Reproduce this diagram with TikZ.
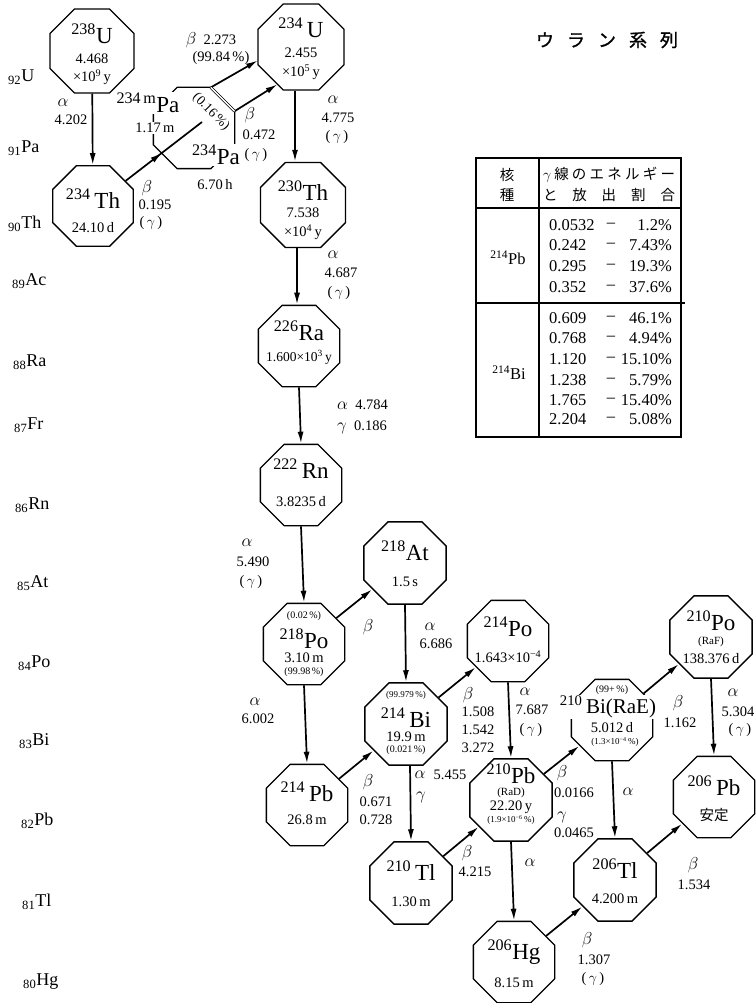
\documentclass[tikz,border=0pt]{standalone}
\usepackage{fontspec}
\setmainfont{Liberation Serif}
\newfontfamily\jpfont{Noto Sans CJK JP}
\newfontfamily\jpbold[FakeBold=1.2]{Noto Sans CJK JP}
\usetikzlibrary{shapes.geometric,arrows.meta,decorations.markings}
\newcommand\nk[2]{\textsuperscript{#1}#2}
\newcommand\el[2]{\textsubscript{#1}#2}
\newcommand\gm{(\,$\gamma$\,)}
\begin{document}
\begin{tikzpicture}[x=1pt,y=-1pt,
  oct/.style={regular polygon, regular polygon sides=8, draw, line width=1.3pt, minimum size=88pt, inner sep=0pt},
  arr/.style={line width=1.7pt, -{Latex[length=12pt,width=6pt]}},
  midarr/.style={line width=1.7pt, decoration={markings, mark=at position #1 with {\arrow{Latex[length=12pt,width=6pt]}}}, postaction={decorate}},
  nb/.style={inner sep=0pt, font=\fontsize{14.5}{16}\selectfont},
  nkf/.style={inner sep=0pt, font=\fontsize{23}{24}\selectfont},
  sm/.style={inner sep=0pt, font=\fontsize{10}{11}\selectfont},
  gk/.style={inner sep=0pt, font=\fontsize{18}{19}\selectfont},
  elf/.style={inner sep=0pt, anchor=west, font=\fontsize{18}{19}\selectfont},
  jpf/.style={inner sep=0pt, font=\jpfont\fontsize{14.5}{15}\selectfont},
  tb/.style={inner sep=0pt, font=\fontsize{16.5}{18}\selectfont},
  tbl/.style={line width=1.4pt},
  mask/.style={fill=white, inner sep=1pt}
]
\useasboundingbox (0,0) rectangle (755,1003);
\fill[white] (0,0) rectangle (755,1003);

% ---------- octagons ----------
\node[oct, minimum size=91pt] (u238) at (92,51) {};
\node[oct, minimum size=87pt] (th234) at (93,206) {};
\node[oct, minimum size=93pt] (u234) at (301,47) {};
\node[oct, minimum size=92pt] (th230) at (303,205) {};
\node[oct] (pa) at (194,128) {};
\node[oct] (ra226) at (299,346) {};
\node[oct] (rn222) at (301,485) {};
\node[oct, minimum size=89pt] (at218) at (405,563) {};
\node[oct] (po218) at (304,644) {};
\node[oct, minimum size=89pt] (bi214) at (406,724) {};
\node[oct] (po214) at (508,641) {};
\node[oct] (bi210) at (612,720) {};
\node[oct, minimum size=89pt] (po210) at (711,637) {};
\node[oct] (pb206) at (714,797) {};
\node[oct] (pb214) at (307,805) {};
\node[oct, minimum size=89pt] (tl210) at (411,883) {};
\node[oct, minimum size=89pt] (pb210) at (511,800) {};
\node[oct, minimum size=89pt] (tl206) at (615,880) {};
\node[oct] (hg206) at (514,962) {};

% ---------- arrows ----------
\draw[arr] (u238) -- (th234);
\coordinate (pain) at (202,122);
\draw[midarr=0.48] (th234) -- (pain);
\coordinate (pa1) at (210.8,87.4);
\coordinate (pa2) at (234.6,111.2);
\coordinate (u234a) at (258,60.4);
\coordinate (u234b) at (277.6,84.3);
\draw[arr] (pa1) -- (u234a);
\draw[arr] (pa2) -- (u234b);
\draw[line width=0.7pt, double, double distance=1.5pt] (pa1) -- (pa2);
\draw[arr] ([xshift=-6pt]u234.south) -- ([xshift=-8pt]th230.north);
\draw[arr] ([xshift=-6pt]th230.south) -- ([xshift=-2pt]ra226.north);
\draw[arr] (ra226.south) -- (rn222.north);
\draw[arr] (rn222.south) -- (po218.north);
\draw[arr] (po218.south) -- (pb214.north);
\draw[arr] (po218) -- (at218);
\draw[arr] (at218.south) -- (bi214.north);
\draw[arr] (pb214) -- (bi214);
\draw[arr] (bi214) -- (po214);
\draw[arr] ([xshift=4pt]bi214.south) -- (tl210.north);
\draw[arr] (po214.south) -- (pb210.north);
\draw[arr] (tl210) -- (pb210);
\draw[arr] (pb210) -- (bi210);
\draw[arr] (pb210.south) -- (hg206.north);
\draw[arr] (bi210) -- (po210);
\draw[arr] (bi210.south) -- (tl206.north);
\draw[arr] (hg206) -- (tl206);
\draw[arr] (tl206) -- (pb206);
\draw[arr] (po210.south) -- (pb206.north);

% ---------- texts in octagons ----------
\node[nkf] (u238a) at (92,34) {\nk{238}{U}};
\node[nb] (u238b) at (92,59) {4.468};
\node[nb] (u238c) at (92,77) {×10\textsuperscript{9}\,y};
\node[nkf] (th234a) at (93,199) {\nk{234}{\,Th}};
\node[nb] (th234b) at (93,228) {24.10\,d};
\node[nkf] (u234t) at (301,28) {\nk{234}{\,U}};
\node[nb] (u234h) at (301,53) {2.455};
\node[nb] (u234e) at (301,72) {×10\textsuperscript{5}\,y};
\node[nkf] (th230a) at (303,191) {\nk{230}{Th}};
\node[nb] (th230b) at (303,213) {7.538};
\node[nb] (th230c) at (303,232) {×10\textsuperscript{4}\,y};
\node[nkf] (ra226a) at (299,331) {\nk{226}{Ra}};
\node[nb, font=\fontsize{13.5}{14}\selectfont] (ra226b) at (299,357) {1.600×10\textsuperscript{3}\,y};
\node[nkf] (rn222a) at (301,469) {\nk{222}{\,Rn}};
\node[nb] (rn222b) at (301,502) {3.8235\,d};
\node[nkf] (at218a) at (405,551) {\nk{218}{At}};
\node[nb] (at218b) at (405,582) {1.5\,s};
\node[sm] (po218a) at (304,616) {(0.02\,\%)};
\node[nkf] (po218b) at (304,639) {\nk{218}{Po}};
\node[nb] (po218c) at (304,658) {3.10\,m};
\node[sm] (po218d) at (304,672) {(99.98\,\%)};
\node[sm, font=\fontsize{9}{10}\selectfont] (bi214a) at (406,695) {(99.979\,\%)};
\node[nkf] (bi214b) at (406,718) {\nk{214}{\,Bi}};
\node[nb] (bi214c) at (406,737) {19.9\,m};
\node[sm] (bi214d) at (406,750) {(0.021\,\%)};
\node[nkf] (po214a) at (508,627) {\nk{214}{Po}};
\node[nb] (po214b) at (508,657) {1.643×10\textsuperscript{−4}};
\node[sm] (bi210a) at (612,690) {(99+\,\%)};
\node[nkf, fill=white, inner sep=1pt, font=\fontsize{21}{22}\selectfont] (bi210b) at (608,707) {\nk{210}{\,Bi(RaE)}};
\node[nb] (bi210c) at (612,728) {5.012\,d};
\node[sm, font=\fontsize{9}{10}\selectfont] (bi210d) at (615,742) {(1.3×10\textsuperscript{−4}\,\%)};
\node[nkf] (po210a) at (711,621) {\nk{210}{Po}};
\node[sm, font=\fontsize{11}{12}\selectfont] (po210b) at (711,642) {(RaF)};
\node[nb] (po210c) at (711,659) {138.376\,d};
\node[nkf] (pb206a) at (714,786) {\nk{206}{\,Pb}};
\node[jpf] (pb206b) at (714,815) {安定};
\node[nkf] (pb214a) at (307,792) {\nk{214}{\,Pb}};
\node[nb] (pb214b) at (307,820) {26.8\,m};
\node[nkf] (pb210a) at (511,774) {\nk{210}{Pb}};
\node[sm, font=\fontsize{11}{12}\selectfont] (pb210b) at (511,793) {(RaD)};
\node[nb] (pb210c) at (511,807) {22.20\,y};
\node[sm, font=\fontsize{9}{10}\selectfont] (pb210d) at (511,820) {(1.9×10\textsuperscript{−6}\,\%)};
\node[nkf] (tl210a) at (411,871) {\nk{210}{\,Tl}};
\node[nb] (tl210b) at (411,902) {1.30\,m};
\node[nkf] (tl206a) at (615,869) {\nk{206}{Tl}};
\node[nb] (tl206b) at (615,899) {4.200\,m};
\node[nkf] (hg206a) at (514,952) {\nk{206}{Hg}};
\node[nb] (hg206b) at (514,983) {8.15\,m};

% ---------- Pa box texts ----------
\node[nkf, mask] (pam) at (148,103) {\textsuperscript{234\,m}Pa};
\node[nb, mask] (pamt) at (155,128) {1.17\,m};
\node[nkf, mask] (pag) at (216,155) {\nk{234}{Pa}};
\node[nb] (pagt) at (215,185) {6.70\,h};
\node[sm, font=\fontsize{13.5}{14}\selectfont, rotate=-45] (pabr) at (211,112) {(0.16\,\%)};

% ---------- decay labels ----------
\node[gk] (l1a) at (63,103) {$\alpha$};
\node[nb] (l1b) at (71,120) {4.202};
\node[nb] (l2a) at (211,40) {{\fontsize{18}{19}\selectfont$\beta$}\ \ 2.273};
\node[nb] (l2b) at (221,58) {(99.84\,\%)};
\node[gk] (l3a) at (250,115) {$\beta$};
\node[nb] (l3b) at (259,135) {0.472};
\node[nb] (l3c) at (256,155) {\gm};
\node[gk] (l4a) at (147,188) {$\beta$};
\node[nb] (l4b) at (155,205) {0.195};
\node[nb] (l4c) at (151,223) {\gm};
\node[gk] (l5a) at (333,100) {$\alpha$};
\node[nb] (l5b) at (338,118) {4.775};
\node[nb] (l5c) at (337,137) {\gm};
\node[gk] (l6a) at (333,255) {$\alpha$};
\node[nb] (l6b) at (341,273) {4.687};
\node[nb] (l6c) at (339,293) {\gm};
\node[nb, anchor=west] (l7a) at (337,405) {{\fontsize{18}{19}\selectfont$\alpha$}\ \ 4.784};
\node[nb, anchor=west] (l7b) at (337,427) {{\fontsize{18}{19}\selectfont$\gamma$}\ \ 0.186};
\node[gk] (l8a) at (247,543) {$\alpha$};
\node[nb] (l8b) at (253,562) {5.490};
\node[nb] (l8c) at (251,582) {\gm};
\node[gk] (l9a) at (368,627) {$\beta$};
\node[gk] (l10a) at (430,627) {$\alpha$};
\node[nb] (l10b) at (436,644) {6.686};
\node[gk] (l11a) at (255,702) {$\alpha$};
\node[nb] (l11b) at (258,719) {6.002};
\node[gk] (l12a) at (468,695) {$\beta$};
\node[nb] (l12b) at (478,712) {1.508};
\node[nb] (l12c) at (478,730) {1.542};
\node[nb] (l12d) at (478,748) {3.272};
\node[gk] (l13a) at (525,692) {$\alpha$};
\node[nb] (l13b) at (532,710) {7.687};
\node[nb] (l13c) at (531,730) {\gm};
\node[gk] (l14a) at (420,775) {$\alpha$};
\node[nb] (l14b) at (450,775) {5.455};
\node[gk] (l14c) at (421,797) {$\gamma$};
\node[gk] (l15a) at (368,782) {$\beta$};
\node[nb] (l15b) at (376,802) {0.671};
\node[nb] (l15c) at (376,820) {0.728};
\node[gk] (l16a) at (562,773) {$\beta$};
\node[nb] (l16b) at (574,793) {0.0166};
\node[gk] (l16c) at (562,817) {$\gamma$};
\node[nb] (l16d) at (574,833) {0.0465};
\node[gk] (l17a) at (628,792) {$\alpha$};
\node[gk] (l18a) at (467,853) {$\beta$};
\node[nb] (l18b) at (475,872) {4.215};
\node[gk] (l19a) at (530,863) {$\alpha$};
\node[gk] (l20a) at (693,865) {$\beta$};
\node[nb] (l20b) at (694,885) {1.534};
\node[gk] (l21a) at (587,940) {$\beta$};
\node[nb] (l21b) at (594,960) {1.307};
\node[nb] (l21c) at (593,979) {\gm};
\node[gk] (l22a) at (678,703) {$\beta$};
\node[nb] (l22b) at (680,723) {1.162};
\node[gk] (l23a) at (733,693) {$\alpha$};
\node[nb] (l23b) at (738,712) {5.304};
\node[nb] (l23c) at (740,730) {\gm};

% ---------- element column ----------
\node[elf] (e92) at (8,77) {\el{92}{U}};
\node[elf] (e91) at (8,148) {\el{91}{Pa}};
\node[elf] (e90) at (8,224) {\el{90}{Th}};
\node[elf] (e89) at (12,281) {\el{89}{Ac}};
\node[elf] (e88) at (13,362) {\el{88}{Ra}};
\node[elf] (e87) at (14,425) {\el{87}{Fr}};
\node[elf] (e86) at (15,505) {\el{86}{Rn}};
\node[elf] (e85) at (17,583) {\el{85}{At}};
\node[elf] (e84) at (18,663) {\el{84}{Po}};
\node[elf] (e83) at (19,741) {\el{83}{Bi}};
\node[elf] (e82) at (21,821) {\el{82}{Pb}};
\node[elf] (e81) at (22,902) {\el{81}{Tl}};
\node[elf] (e80) at (23,982) {\el{80}{Hg}};

% ---------- title ----------
\node[inner sep=0pt, font=\jpbold\fontsize{18}{19}\selectfont] (title) at (607,40) {\makebox[142pt]{ウ\hfill ラ\hfill ン\hfill 系\hfill 列}};

% ---------- table ----------
\draw[tbl] (476,158) rectangle (681,437);
\draw[tbl] (539,158) -- (539,437);
\draw[tbl] (476,208) -- (681,208);
\draw[tbl] (476,303) -- (685,303);
\node[jpf] (h1) at (507,175) {核};
\node[jpf] (h2) at (507,195) {種};
\node[jpf] (h3) at (609,175) {\makebox[132pt]{$\gamma$\hfill 線\hfill の\hfill エ\hfill ネ\hfill ル\hfill ギ\hfill ー}};
\node[jpf] (h4) at (609,195) {\makebox[132pt]{と\hfill 放\hfill 出\hfill 割\hfill 合}};
\node[tb] (tpb) at (508,258) {\nk{214}{Pb}};
\node[tb] (tbi) at (509,373) {\nk{214}{Bi}};
\foreach \v/\p/\y [count=\i] in {0.0532/1.2\%/225, 0.242/7.43\%/245, 0.295/19.3\%/266, 0.352/37.6\%/287,
  0.609/46.1\%/318, 0.768/4.94\%/338, 1.120/15.10\%/359, 1.238/5.79\%/380, 1.765/15.40\%/400, 2.204/5.08\%/419}{
  \node[tb, anchor=west] (tv\i) at (549,\y) {\v};
  \node[tb] (td\i) at (611,\y) {–};
  \node[tb, anchor=east] (tp\i) at (672,\y) {\p};
}
\end{tikzpicture}
\end{document}
